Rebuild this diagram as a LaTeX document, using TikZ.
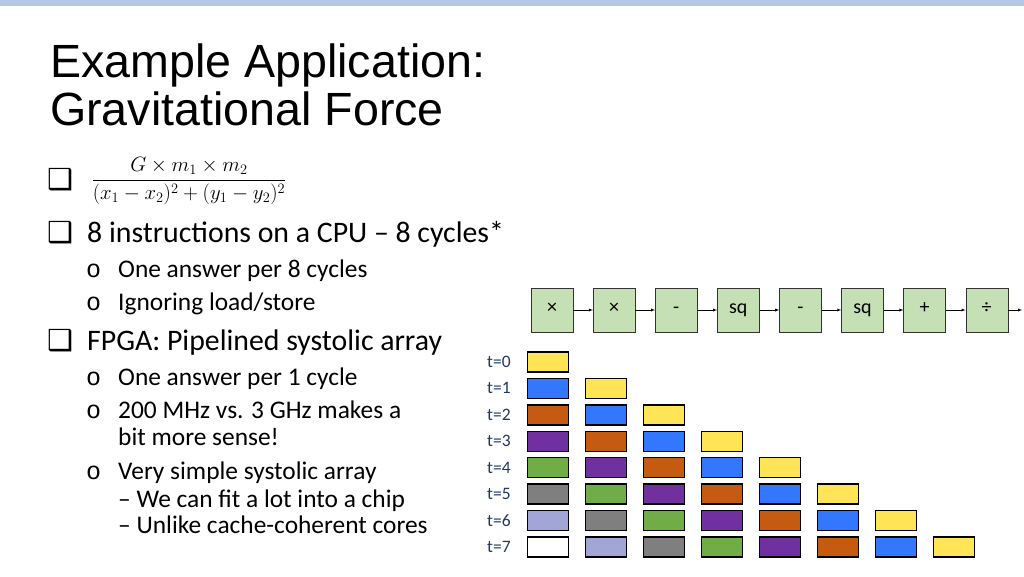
\documentclass[tikz,border=0pt]{standalone}
\usepackage{amsmath}
\usepackage{fontspec}
\setmainfont{Carlito}
\newfontfamily\titlefont{Liberation Sans}
\newfontfamily\symfont{DejaVu Sans}
\newfontfamily\dotfont{Liberation Mono}
\usetikzlibrary{positioning,arrows,shadows}

\definecolor{barblue}{RGB}{180,199,231}
\definecolor{stagegreen}{RGB}{197,224,180}
\definecolor{tblue}{RGB}{31,56,100}
\definecolor{col0}{RGB}{255,229,85}
\definecolor{col1}{RGB}{51,119,255}
\definecolor{col2}{RGB}{197,90,17}
\definecolor{col3}{RGB}{112,48,160}
\definecolor{col4}{RGB}{112,173,71}
\definecolor{col5}{RGB}{127,127,127}
\definecolor{col6}{RGB}{162,166,214}
\definecolor{col7}{RGB}{255,255,255}

\tikzstyle{stage}=[rectangle, draw=black!80, fill=stagegreen, minimum width=42pt,
        minimum height=44pt, inner sep=0pt, text height=0.7em, text depth=0.1em,
        font=\fontsize{20}{22}\selectfont]
\tikzstyle{slot}=[rectangle, draw=black, line width=1.4pt, minimum width=41pt,
        minimum height=20pt, inner sep=0pt]
\tikzstyle{tlabel}=[text=tblue, anchor=west, inner sep=0pt, font=\fontsize{17.5}{20}\selectfont]
\tikzstyle{heading}=[anchor=base west, inner sep=0pt, font=\titlefont\fontsize{46.6}{48}\selectfont]
\tikzstyle{body}=[anchor=base west, inner sep=0pt, font=\fontsize{29.8}{32}\selectfont]
\tikzstyle{sub}=[anchor=base west, inner sep=0pt, font=\fontsize{25.4}{28}\selectfont]
\tikzstyle{box}=[anchor=base west, inner sep=0pt, font=\symfont\fontsize{29}{30}\selectfont]
\tikzstyle{dot}=[anchor=base west, inner sep=0pt, font=\dotfont\fontsize{25}{28}\selectfont]

\begin{document}
\begin{tikzpicture}[x=1pt, y=-1pt, node distance=19.7pt]
        \useasboundingbox (0,0) rectangle (1024,576);
        \fill[barblue] (0,0) rectangle (1024,6);

        % title
        \node[heading] (title1) at (50,77) {Example Application:};
        \node[heading] (title2) at (50,125) {Gravitational Force};

        % bullets
        \node[box] (b1) at (47,189) {❑};
        \node (formula) at (189,181) {\fontsize{20}{24}\selectfont
          $\dfrac{G\times m_1\times m_2}{(x_1-x_2)^2+(y_1-y_2)^2}$};
        \node[box] (b2) at (47,242) {❑};
        \node[body] (cpu) at (87,242) {8 instructions on a CPU -- 8 cycles*};
        \node[dot] (d1) at (86,277) {o};
        \node[sub] (cpu1) at (118,277) {One answer per 8 cycles};
        \node[dot] (d2) at (86,310) {o};
        \node[sub] (cpu2) at (118,310) {Ignoring load/store};
        \node[box] (b3) at (47,350) {❑};
        \node[body] (fpga) at (87,350) {FPGA: Pipelined systolic array};
        \node[dot] (d3) at (86,385) {o};
        \node[sub] (fpga1) at (118,385) {One answer per 1 cycle};
        \node[dot] (d4) at (86,418) {o};
        \node[sub] (fpga2) at (118,418) {200 MHz vs. 3 GHz makes a};
        \node[sub] (fpga2b) at (118,445) {bit more sense!};
        \node[dot] (d5) at (86,479) {o};
        \node[sub] (fpga3) at (118,479) {Very simple systolic array};
        \node[sub] (fpga3a) at (118,507) {-- We can fit a lot into a chip};
        \node[sub] (fpga3b) at (118,533) {-- Unlike cache-coherent cores};

        % pipeline
        \node[stage] (op1) at (552,310) {×};
        \node[stage, right=of op1] (op2) {×};
        \node[stage, right=of op2] (op3) {-};
        \node[stage, right=of op3] (op4) {sq};
        \node[stage, right=of op4] (op5) {-};
        \node[stage, right=of op5] (op6) {sq};
        \node[stage, right=of op6] (op7) {+};
        \node[stage, right=of op7] (op8) {÷};
        \coordinate (out) at (1022,310);
        \draw[-latex] (op1) -- (op2);
        \draw[-latex] (op2) -- (op3);
        \draw[-latex] (op3) -- (op4);
        \draw[-latex] (op4) -- (op5);
        \draw[-latex] (op5) -- (op6);
        \draw[-latex] (op6) -- (op7);
        \draw[-latex] (op7) -- (op8);
        \draw[-latex] (op8) -- (out);

        % time steps
        \foreach \t in {0,...,7} {
          \node[tlabel] (t\t) at (487,362+26.4*\t) {t=\t};
          \foreach \c in {0,...,\t} {
            \pgfmathtruncatemacro\k{\t-\c}
            \node[slot, fill=col\k] (s\t\c) at (548+58*\c,362+26.4*\t) {};
          }
        }
\end{tikzpicture}
\end{document}
